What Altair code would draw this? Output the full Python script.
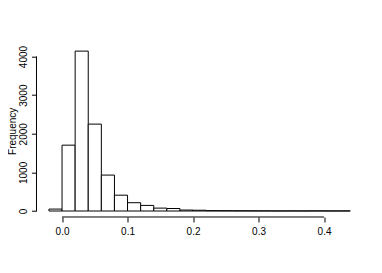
import altair as alt
import pandas as pd

bin_starts = [-0.02, 0.00, 0.02, 0.04, 0.06, 0.08, 0.10, 0.12, 0.14, 0.16, 0.18, 0.20,
              0.22, 0.24, 0.26, 0.28, 0.30, 0.32, 0.34, 0.36, 0.38, 0.40, 0.42]
counts = [50, 1705, 4140, 2250, 930, 410, 215, 145, 75, 65, 25, 20,
          10, 8, 6, 5, 4, 2, 3, 2, 4, 2, 3]
bin_width = 0.02
x_ticks = [0.0, 0.1, 0.2, 0.3, 0.4]
y_ticks = [0, 1000, 2000, 3000, 4000]

df = pd.DataFrame({
    "start": bin_starts,
    "end": [s + bin_width for s in bin_starts],
    "count": counts,
})

W, H = 325.8, 172.3
FONT = "Liberation Sans"

xs = alt.Scale(domain=[-0.039, 0.4584], nice=False, zero=False)
ys = alt.Scale(domain=[-155, 4306], nice=False, zero=False)

bars = alt.Chart(df).mark_rect(fill="white", stroke="black", strokeWidth=1).encode(
    x=alt.X("start:Q", scale=xs,
            axis=alt.Axis(values=x_ticks, format=".1f", domain=False, grid=False,
                          tickSize=5, tickColor="black", labelColor="black",
                          labelFont=FONT, labelFontSize=10, labelPadding=5,
                          title=None)),
    x2="end:Q",
    y=alt.Y("count:Q", scale=ys,
            axis=alt.Axis(values=y_ticks, format="d", domain=False, grid=False,
                          tickSize=5, tickColor="black", labelColor="black",
                          labelFont=FONT, labelFontSize=10, labelPadding=3,
                          labelAngle=270, labelAlign="center", labelBaseline="bottom",
                          title="Frequency", titleFont=FONT, titleFontSize=10,
                          titleFontWeight="normal", titleColor="black",
                          titleAngle=270, titleAlign="center", titleBaseline="top",
                          titleX=-28.5, titleY=H / 2)),
    y2=alt.datum(0),
)

xaxis_df = pd.DataFrame({"a": [x_ticks[0]], "b": [x_ticks[-1]]})
xline = alt.Chart(xaxis_df).mark_rule(color="black", strokeWidth=1).encode(
    x=alt.X("a:Q", scale=xs), x2="b:Q", y=alt.value(H)
)
yaxis_df = pd.DataFrame({"a": [y_ticks[0]], "b": [y_ticks[-1]]})
yline = alt.Chart(yaxis_df).mark_rule(color="black", strokeWidth=1).encode(
    y=alt.Y("a:Q", scale=ys), y2="b:Q", x=alt.value(0)
)

chart = alt.layer(bars, xline, yline).properties(
    width=W, height=H,
    autosize=alt.AutoSizeParams(type="none"),
    padding={"left": 28.5, "top": 36.7, "right": 10, "bottom": 40},
).configure(background="white").configure_view(strokeWidth=0, stroke="transparent")

chart.save("out.html", embed_options={"renderer": "svg", "actions": False})
